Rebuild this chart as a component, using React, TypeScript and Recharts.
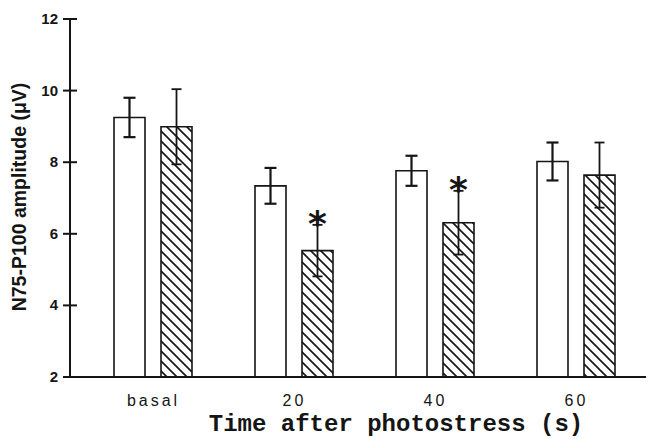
import React from "react";
import { BarChart, Bar, XAxis, YAxis, ErrorBar } from "recharts";

const categories = ["basal", "20", "40", "60"];
const controlMeans = [9.25, 7.34, 7.76, 8.02];
const controlErr = [0.55, 0.5, 0.42, 0.53];
const patientMeans = [8.99, 5.53, 6.31, 7.64];
const patientErr = [1.05, 0.72, 0.89, 0.91];
const significance = ["", "*", "*", ""];
const yTicks = [2, 4, 6, 8, 10, 12];
const yDomain = [2, 12];

const chartData = categories.map((c, i) => ({
  category: c,
  control: controlMeans[i],
  controlErr: controlErr[i],
  patient: patientMeans[i],
  patientErr: patientErr[i],
}));

const INK = "#151515";

const renderYTick = (props: any) => {
  const { x, y, payload } = props;
  return (
    <g>
      <line x1={x + 5} x2={x + 19} y1={y} y2={y} stroke={INK} strokeWidth={2} />
      <text
        x={x}
        y={y}
        dy={5}
        textAnchor="end"
        fontFamily="Liberation Sans, Arial, sans-serif"
        fontWeight="bold"
        fontSize={15}
        fill={INK}
      >
        {payload.value}
      </text>
    </g>
  );
};

const renderXTick = (props: any) => {
  const { x, y, payload } = props;
  return (
    <text
      x={x + 1}
      y={y}
      dy={11.5}
      textAnchor="middle"
      fontFamily="Liberation Sans, Arial, sans-serif"
      fontSize={16}
      letterSpacing={3}
      fill={INK}
    >
      {payload.value}
    </text>
  );
};

const StarLabel = (props: any) => {
  const vb = props.viewBox || props;
  const { x, y, width, height } = vb;
  const i = props.index;
  if (i == null || !significance[i]) return null;
  const unit = height / (patientMeans[i] - yDomain[0]);
  const errTop = y - patientErr[i] * unit;
  const cy = errTop - 10;
  return (
    <text
      x={x + width / 2}
      y={cy + 21}
      textAnchor="middle"
      fontFamily="DejaVu Sans, sans-serif"
      fontWeight="bold"
      fontSize={36}
      fill={INK}
    >
      {significance[i]}
    </text>
  );
};

export default function App() {
  return (
    <BarChart
      width={650}
      height={431}
      data={chartData}
      margin={{ top: 11, right: 12, left: 0, bottom: 0 }}
      barSize={31}
      barGap={16}
    >
      <defs>
        <pattern id="hatch" patternUnits="userSpaceOnUse" width={10} height={10}>
          <path
            d="M-1,-1 L11,11 M-1,9 L1,11 M9,-1 L11,1"
            stroke={INK}
            strokeWidth={1.6}
          />
        </pattern>
      </defs>
      <XAxis
        dataKey="category"
        tickLine={false}
        axisLine={{ stroke: INK, strokeWidth: 2 }}
        tickSize={8}
        tickMargin={9}
        height={62}
        padding={{ left: 12, right: 0 }}
        tick={renderXTick}
        label={(p: any) => {
          const vb = p.viewBox;
          return (
            <text
              x={vb.x + vb.width / 2 + 38}
              y={vb.y + 54}
              textAnchor="middle"
              fontFamily="Liberation Mono, Courier New, monospace"
              fontWeight="bold"
              fontSize={24}
              fill={INK}
            >
              Time after photostress (s)
            </text>
          );
        }}
      />
      <YAxis
        type="number"
        domain={yDomain}
        ticks={yTicks}
        interval={0}
        width={62}
        tickSize={7}
        tickMargin={5}
        tickLine={false}
        axisLine={{ stroke: INK, strokeWidth: 2 }}
        tick={renderYTick}
        label={(p: any) => {
          const vb = p.viewBox;
          const cx = 18;
          const cy = vb.y + vb.height / 2 - 1;
          return (
            <text
              x={cx}
              y={cy}
              transform={`rotate(-90, ${cx}, ${cy})`}
              textAnchor="middle"
              fontFamily="Liberation Sans, Arial, sans-serif"
              fontWeight="bold"
              fontSize={19.5}
              fill={INK}
            >
              N75-P100 amplitude (μV)
            </text>
          );
        }}
      />
      <Bar dataKey="control" name="Controls" fill="#ffffff" stroke={INK} strokeWidth={1.6} isAnimationActive={false}>
        <ErrorBar dataKey="controlErr" width={6} stroke={INK} strokeWidth={2.2} direction="y" />
      </Bar>
      <Bar
        dataKey="patient"
        name="Patients"
        fill="url(#hatch)"
        stroke={INK}
        strokeWidth={1.6}
        isAnimationActive={false}
        label={StarLabel}
      >
        <ErrorBar dataKey="patientErr" width={5} stroke={INK} strokeWidth={1.8} direction="y" />
      </Bar>
    </BarChart>
  );
}
